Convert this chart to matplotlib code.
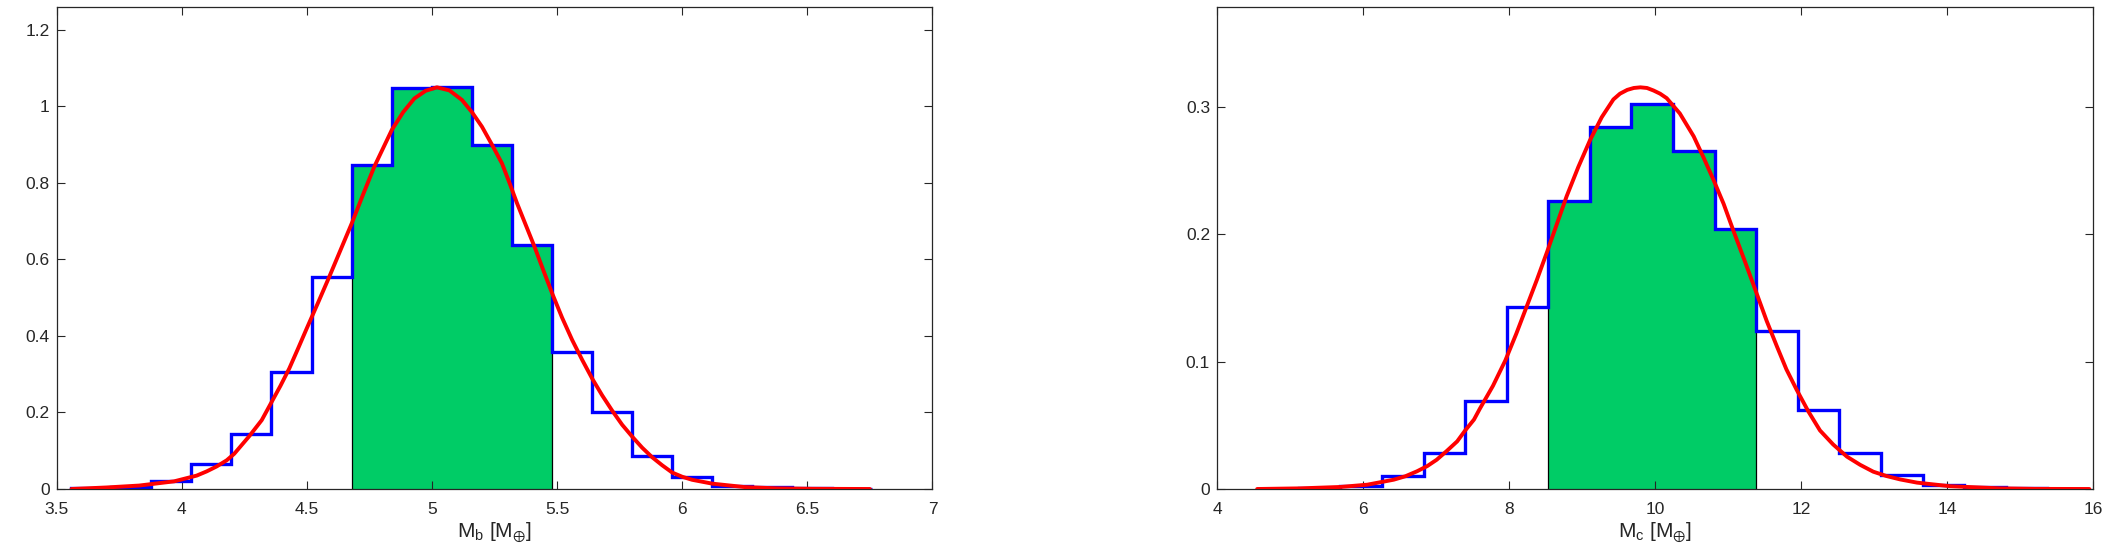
import numpy as np
import matplotlib
matplotlib.use("Agg")
import matplotlib.pyplot as plt

plt.rcParams['font.family'] = ['Liberation Sans', 'DejaVu Sans']
plt.rcParams['mathtext.fontset'] = 'custom'
plt.rcParams['mathtext.rm'] = 'Liberation Sans'
plt.rcParams['mathtext.it'] = 'Liberation Sans:italic'
plt.rcParams['mathtext.fallback'] = 'stixsans'

# ---- planet b ----
edges_b = [3.559, 3.719, 3.879, 4.039, 4.199, 4.359, 4.519, 4.679, 4.839, 4.999, 5.159,
           5.319, 5.479, 5.639, 5.799, 5.959, 6.119, 6.279, 6.439, 6.599, 6.759]
hist_b = [0.003, 0.004, 0.021, 0.066, 0.143, 0.305, 0.554, 0.848, 1.047, 1.050,
          0.898, 0.637, 0.359, 0.200, 0.087, 0.031, 0.009, 0.005, 0.002, 0.001]
ci_b = (4.679, 5.479)
fit_x_b = [3.56, 3.70, 3.83, 3.97, 4.06, 4.10, 4.14, 4.18, 4.21, 4.27, 4.32, 4.36, 4.395,
           4.43, 4.465, 4.50, 4.545, 4.59, 4.635, 4.68, 4.725, 4.77, 4.84, 4.885, 4.93,
           4.975, 5.02, 5.07, 5.12, 5.16, 5.20, 5.24, 5.28, 5.31, 5.34, 5.375, 5.41, 5.445,
           5.48, 5.52, 5.56, 5.60, 5.64, 5.68, 5.72, 5.76, 5.80, 5.84, 5.88, 5.92, 5.96,
           6.00, 6.04, 6.12, 6.25, 6.38, 6.52, 6.75]
fit_y_b = [0.000, 0.004, 0.009, 0.020, 0.035, 0.046, 0.059, 0.075, 0.092, 0.138, 0.180,
           0.228, 0.270, 0.315, 0.367, 0.420, 0.487, 0.555, 0.625, 0.695, 0.770, 0.843,
           0.939, 0.985, 1.021, 1.041, 1.050, 1.042, 1.017, 0.985, 0.947, 0.900, 0.851,
           0.800, 0.747, 0.690, 0.633, 0.572, 0.512, 0.448, 0.390, 0.338, 0.289, 0.245,
           0.205, 0.168, 0.137, 0.108, 0.083, 0.062, 0.043, 0.032, 0.024, 0.014, 0.005,
           0.0017, 0.0005, 0.000]
xticks_b = [3.5, 4, 4.5, 5, 5.5, 6, 6.5, 7]
xlabels_b = ['3.5', '4', '4.5', '5', '5.5', '6', '6.5', '7']
yticks_b = [0, 0.2, 0.4, 0.6, 0.8, 1, 1.2]
ylabels_b = ['0', '0.2', '0.4', '0.6', '0.8', '1', '1.2']

# ---- planet c ----
edges_c = [4.550, 5.120, 5.689, 6.259, 6.829, 7.399, 7.968, 8.538, 9.108, 9.677, 10.247,
           10.817, 11.386, 11.956, 12.526, 13.096, 13.665, 14.235, 14.805, 15.374, 15.944]
hist_c = [0.0003, 0.0005, 0.0021, 0.0105, 0.0283, 0.0692, 0.1432, 0.2262, 0.2846, 0.3024,
          0.2658, 0.2042, 0.1241, 0.0621, 0.0280, 0.0112, 0.0034, 0.0016, 0.0005, 0.0002]
ci_c = (8.538, 11.386)
fit_x_c = [4.55, 5.14, 5.69, 6.06, 6.42, 6.58, 6.74, 6.88, 7.01, 7.15, 7.29, 7.40, 7.52,
           7.60, 7.78, 7.95, 8.10, 8.24, 8.38, 8.52, 8.655, 8.79, 8.95, 9.11, 9.27, 9.43,
           9.52, 9.62, 9.71, 9.80, 9.89, 9.98, 10.07, 10.16, 10.34, 10.53, 10.66, 10.80,
           10.94, 11.07, 11.23, 11.39, 11.53, 11.67, 11.80, 11.94, 12.10, 12.26, 12.44,
           12.63, 12.81, 12.99, 13.17, 13.36, 13.59, 14.04, 14.73, 15.20, 15.95]
fit_y_c = [0.0, 0.0005, 0.0016, 0.0034, 0.0073, 0.0100, 0.0139, 0.018, 0.023, 0.030,
           0.0374, 0.046, 0.0545, 0.063, 0.081, 0.101, 0.122, 0.143, 0.164, 0.186, 0.208,
           0.230, 0.253, 0.274, 0.292, 0.306, 0.3105, 0.3135, 0.3150, 0.3155, 0.3150,
           0.3130, 0.3105, 0.307, 0.295, 0.277, 0.261, 0.243, 0.224, 0.2035, 0.179, 0.154,
           0.132, 0.112, 0.094, 0.078, 0.061, 0.046, 0.035, 0.0254, 0.019, 0.0136, 0.0102,
           0.0075, 0.0050, 0.0022, 0.0005, 0.0001, 0.0]
xticks_c = [4, 6, 8, 10, 12, 14, 16]
xlabels_c = ['4', '6', '8', '10', '12', '14', '16']
yticks_c = [0, 0.1, 0.2, 0.3]
ylabels_c = ['0', '0.1', '0.2', '0.3']

GREEN = '#00cc66'
AXC = '#262626'


def draw_panel(ax, edges, hist, ci, fx, fy, xlim, xticks, xlabels, yticks, ylabels, xlabel):
    edges = np.array(edges)
    hist = np.array(hist)
    # shaded credible interval: bins between ci bounds
    i0 = int(np.argmin(np.abs(edges - ci[0])))
    i1 = int(np.argmin(np.abs(edges - ci[1])))
    ax.stairs(hist[i0:i1], edges[i0:i1 + 1], fill=True, facecolor=GREEN,
              edgecolor='black', linewidth=0.9, zorder=1)
    ax.stairs(hist, edges, color='#0000ff', linewidth=2.4, zorder=2)
    ax.plot(fx, fy, color='#ff0000', linewidth=2.8, zorder=3,
            solid_joinstyle='round', solid_capstyle='round')

    ax.set_xlim(*xlim)
    ax.set_ylim(0, 1.2 * max(max(hist), max(fy)))
    ax.set_xticks(xticks)
    ax.set_xticklabels(xlabels)
    ax.set_yticks(yticks)
    ax.set_yticklabels(ylabels)
    ax.tick_params(direction='in', top=True, right=True, length=6, width=0.8,
                   colors=AXC, labelsize=12.5)
    ax.tick_params(axis='x', pad=9)
    ax.tick_params(axis='y', pad=5)
    for s in ax.spines.values():
        s.set_color(AXC)
        s.set_linewidth(0.9)
    ax.set_xlabel(xlabel, fontsize=15, color=AXC, labelpad=3)


fig = plt.figure(figsize=(21.25, 5.6), dpi=100)
ax1 = fig.add_axes([56.5 / 2125, 71 / 560, 876 / 2125, 482 / 560])
ax2 = fig.add_axes([1217 / 2125, 71 / 560, 876 / 2125, 482 / 560])

draw_panel(ax1, edges_b, hist_b, ci_b, fit_x_b, fit_y_b, (3.5, 7),
           xticks_b, xlabels_b, yticks_b, ylabels_b, r'M$_{\mathrm{b}}$ [M$_{\oplus}$]')
draw_panel(ax2, edges_c, hist_c, ci_c, fit_x_c, fit_y_c, (4, 16),
           xticks_c, xlabels_c, yticks_c, ylabels_c, r'M$_{\mathrm{c}}$ [M$_{\oplus}$]')

fig.savefig('out.png', dpi=100, facecolor='white')
